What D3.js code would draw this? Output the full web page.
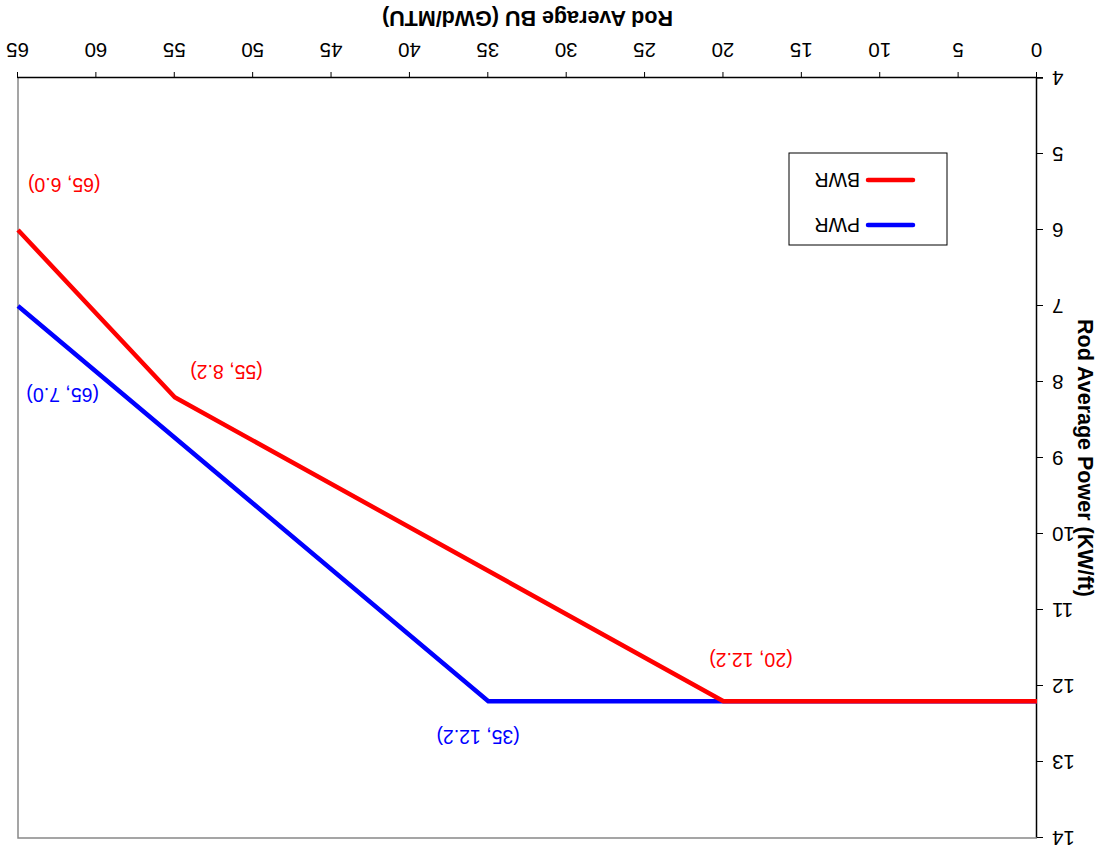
<!DOCTYPE html>
<html>
<head>
<meta charset="utf-8">
<script src="https://cdn.jsdelivr.net/npm/d3@7"></script>
<style>
  body { margin: 0; background: #fff; }
  svg { display: block; font-family: "Liberation Sans", Arial, sans-serif; }
</style>
</head>
<body>
<div id="chart"></div>
<script>
var width = 1109,
    height = 853,
    margin = {top: 15, right: 18, bottom: 78, left: 72};

// series (BU in GWd/MTU, power in KW/ft)
var pwrBU    = [0, 20, 35, 65];
var pwrPower = [12.2, 12.2, 12.2, 7.0];
var bwrBU    = [0, 20, 55, 65];
var bwrPower = [12.2, 12.2, 8.2, 6.0];

var xTicks = [0, 5, 10, 15, 20, 25, 30, 35, 40, 45, 50, 55, 60, 65];
var yTicks = [4, 5, 6, 7, 8, 9, 10, 11, 12, 13, 14];

var seriesNames  = ["PWR", "BWR"];
var seriesColors = ["#0000ff", "#ff0000"];

// where each point label sits, in data units
var noteText  = ["(65, 6.0)", "(55, 8.2)", "(65, 7.0)", "(20, 12.2)", "(35, 12.2)"];
var noteBU    = [62.05, 51.7, 62.15, 18.25, 35.65];
var notePower = [5.41, 7.87, 8.17, 11.66, 12.67];
var noteColor = ["#ff0000", "#ff0000", "#0000ff", "#ff0000", "#0000ff"];

var x = d3.scaleLinear()
    .domain([0, 65])
    .range([margin.left, width - margin.right]);

var y = d3.scaleLinear()
    .domain([4, 14])
    .range([height - margin.bottom, margin.top]);

var svg = d3.select("#chart").append("svg")
    .attr("width", width)
    .attr("height", height);

// the whole chart is shown upside down
var g = svg.append("g")
    .attr("transform", "rotate(180," + width / 2 + "," + height / 2 + ")");

// frame on the far sides
g.append("path")
    .attr("d", "M" + x(0) + "," + y(14) + "H" + x(65) + "V" + y(4))
    .attr("fill", "none")
    .attr("stroke", "#888")
    .attr("stroke-width", 1.5);

var xAxis = g.append("g")
    .attr("transform", "translate(0," + y(4) + ")")
    .call(d3.axisBottom(x).tickValues(xTicks).tickSizeInner(6).tickSizeOuter(0).tickPadding(14));

var yAxis = g.append("g")
    .attr("transform", "translate(" + x(0) + ",0)")
    .call(d3.axisLeft(y).tickValues(yTicks).tickSizeInner(6).tickSizeOuter(0).tickPadding(9));

[xAxis, yAxis].forEach(function(a) {
  a.attr("font-size", 20.5).attr("font-family", "'Liberation Sans', Arial, sans-serif");
  a.selectAll("path.domain").attr("stroke", "#000").attr("stroke-width", 1.5);
  a.selectAll("line").attr("stroke", "#000").attr("stroke-width", 1);
  a.selectAll("text").attr("fill", "#000");
});
// extend the x axis line past the y axis
xAxis.append("line")
    .attr("x1", x(0) - 6).attr("x2", x(0))
    .attr("stroke", "#000").attr("stroke-width", 1.5);

g.append("text")
    .attr("x", (x(0) + x(65)) / 2)
    .attr("y", height - 11)
    .attr("text-anchor", "middle")
    .attr("font-size", 21.5)
    .attr("font-weight", "bold")
    .text("Rod Average BU (GWd/MTU)");

g.append("text")
    .attr("transform", "translate(31," + (y(4) + y(14)) / 2 + ") rotate(-90)")
    .attr("text-anchor", "middle")
    .attr("font-size", 21.5)
    .attr("font-weight", "bold")
    .text("Rod Average Power (KW/ft)");

var line = d3.line()
    .x(function(d) { return x(d[0]); })
    .y(function(d) { return y(d[1]); });

var series = [d3.zip(pwrBU, pwrPower), d3.zip(bwrBU, bwrPower)];

g.selectAll("path.series")
    .data(series)
  .enter().append("path")
    .attr("class", "series")
    .attr("d", line)
    .attr("fill", "none")
    .attr("stroke", function(d, i) { return seriesColors[i]; })
    .attr("stroke-width", 4.5)
    .attr("stroke-linejoin", "round");

// point labels
g.selectAll("text.note")
    .data(noteText)
  .enter().append("text")
    .attr("class", "note")
    .attr("x", function(d, i) { return x(noteBU[i]); })
    .attr("y", function(d, i) { return y(notePower[i]); })
    .attr("dy", "0.35em")
    .attr("text-anchor", "middle")
    .attr("font-size", 19.5)
    .attr("fill", function(d, i) { return noteColor[i]; })
    .text(function(d) { return d; });

// legend
var legend = g.append("g")
    .attr("transform", "translate(162,608)");

legend.append("rect")
    .attr("width", 158)
    .attr("height", 92)
    .attr("fill", "#fff")
    .attr("stroke", "#000")
    .attr("stroke-width", 1);

var items = legend.selectAll("g.item")
    .data(seriesNames)
  .enter().append("g")
    .attr("class", "item")
    .attr("transform", function(d, i) { return "translate(0," + (20 + i * 45) + ")"; });

items.append("line")
    .attr("x1", 34).attr("x2", 79)
    .attr("stroke", function(d, i) { return seriesColors[i]; })
    .attr("stroke-width", 4.5)
    .attr("stroke-linecap", "round");

items.append("text")
    .attr("x", 87)
    .attr("dy", "0.35em")
    .attr("font-size", 19.5)
    .text(function(d) { return d; });
</script>
</body>
</html>
